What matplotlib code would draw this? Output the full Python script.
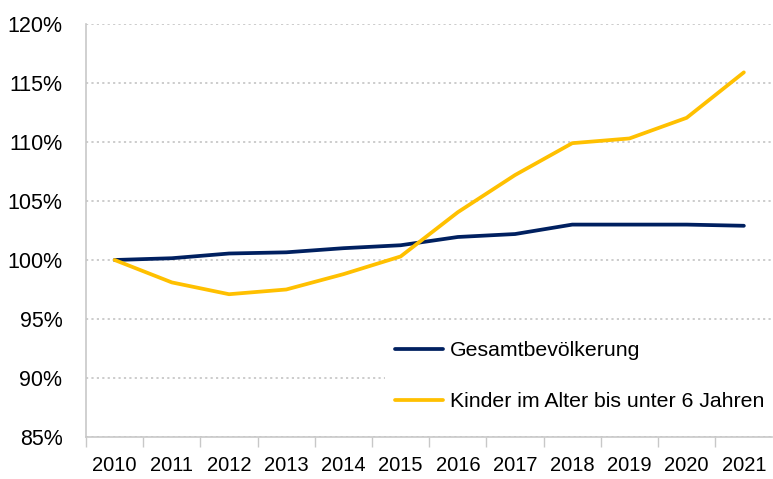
import matplotlib.pyplot as plt
from matplotlib.ticker import FuncFormatter

plt.rcParams['font.family'] = ['Liberation Sans', 'DejaVu Sans']

# Index 2010 = 100%
years = ['2010', '2011', '2012', '2013', '2014', '2015',
         '2016', '2017', '2018', '2019', '2020', '2021']
gesamt = [100.0, 100.15, 100.55, 100.65, 101.0, 101.25,
          101.95, 102.2, 103.0, 103.0, 103.0, 102.9]
kinder = [100.0, 98.1, 97.1, 97.5, 98.8, 100.3,
          104.05, 107.2, 109.9, 110.3, 112.05, 115.9]

navy = '#002060'
gold = '#FFC000'
grey = '#C8C8C8'

fig = plt.figure(figsize=(7.73, 4.79), dpi=100)
ax = fig.add_axes([0.1113, 0.0877, 0.888, 0.8622])

x = range(len(years))
ax.plot(x, gesamt, color=navy, lw=2.7, label='Gesamtbevölkerung', solid_capstyle='round')
ax.plot(x, kinder, color=gold, lw=2.7, label='Kinder im Alter bis unter 6 Jahren', solid_capstyle='round')

ax.set_xlim(-0.5, len(years) - 0.5)
ax.set_ylim(85, 120)
ax.set_yticks(range(85, 121, 5))
ax.yaxis.set_major_formatter(FuncFormatter(lambda v, p: f'{v:.0f}%'))
ax.grid(axis='y', color=grey, ls=(0, (1.2, 1.8)), lw=1.3)
ax.set_axisbelow(True)

# category axis: labels centered, ticks on boundaries
ax.set_xticks([i - 0.5 for i in x])
ax.set_xticks(list(x), minor=True)
ax.set_xticklabels([])
ax.set_xticklabels(years, minor=True)
ax.tick_params(axis='x', which='major', length=7, width=1, color=grey, direction='out')
ax.tick_params(axis='x', which='minor', length=0, pad=14, labelsize=14.5)
ax.tick_params(axis='y', length=0, pad=17, labelsize=15.5)

for s in ['top', 'right']:
    ax.spines[s].set_visible(False)
for s in ['left', 'bottom']:
    ax.spines[s].set_color(grey)
    ax.spines[s].set_linewidth(1.2)

leg = ax.legend(loc='center left', bbox_to_anchor=(0.4975, 0.215),
                bbox_transform=fig.transFigure, frameon=True, facecolor='white',
                edgecolor='none', framealpha=1, fontsize=15.3, handlelength=2.25,
                handletextpad=0.33, labelspacing=1.5, borderaxespad=0, borderpad=0.5)

fig.savefig('out.png', dpi=100)
